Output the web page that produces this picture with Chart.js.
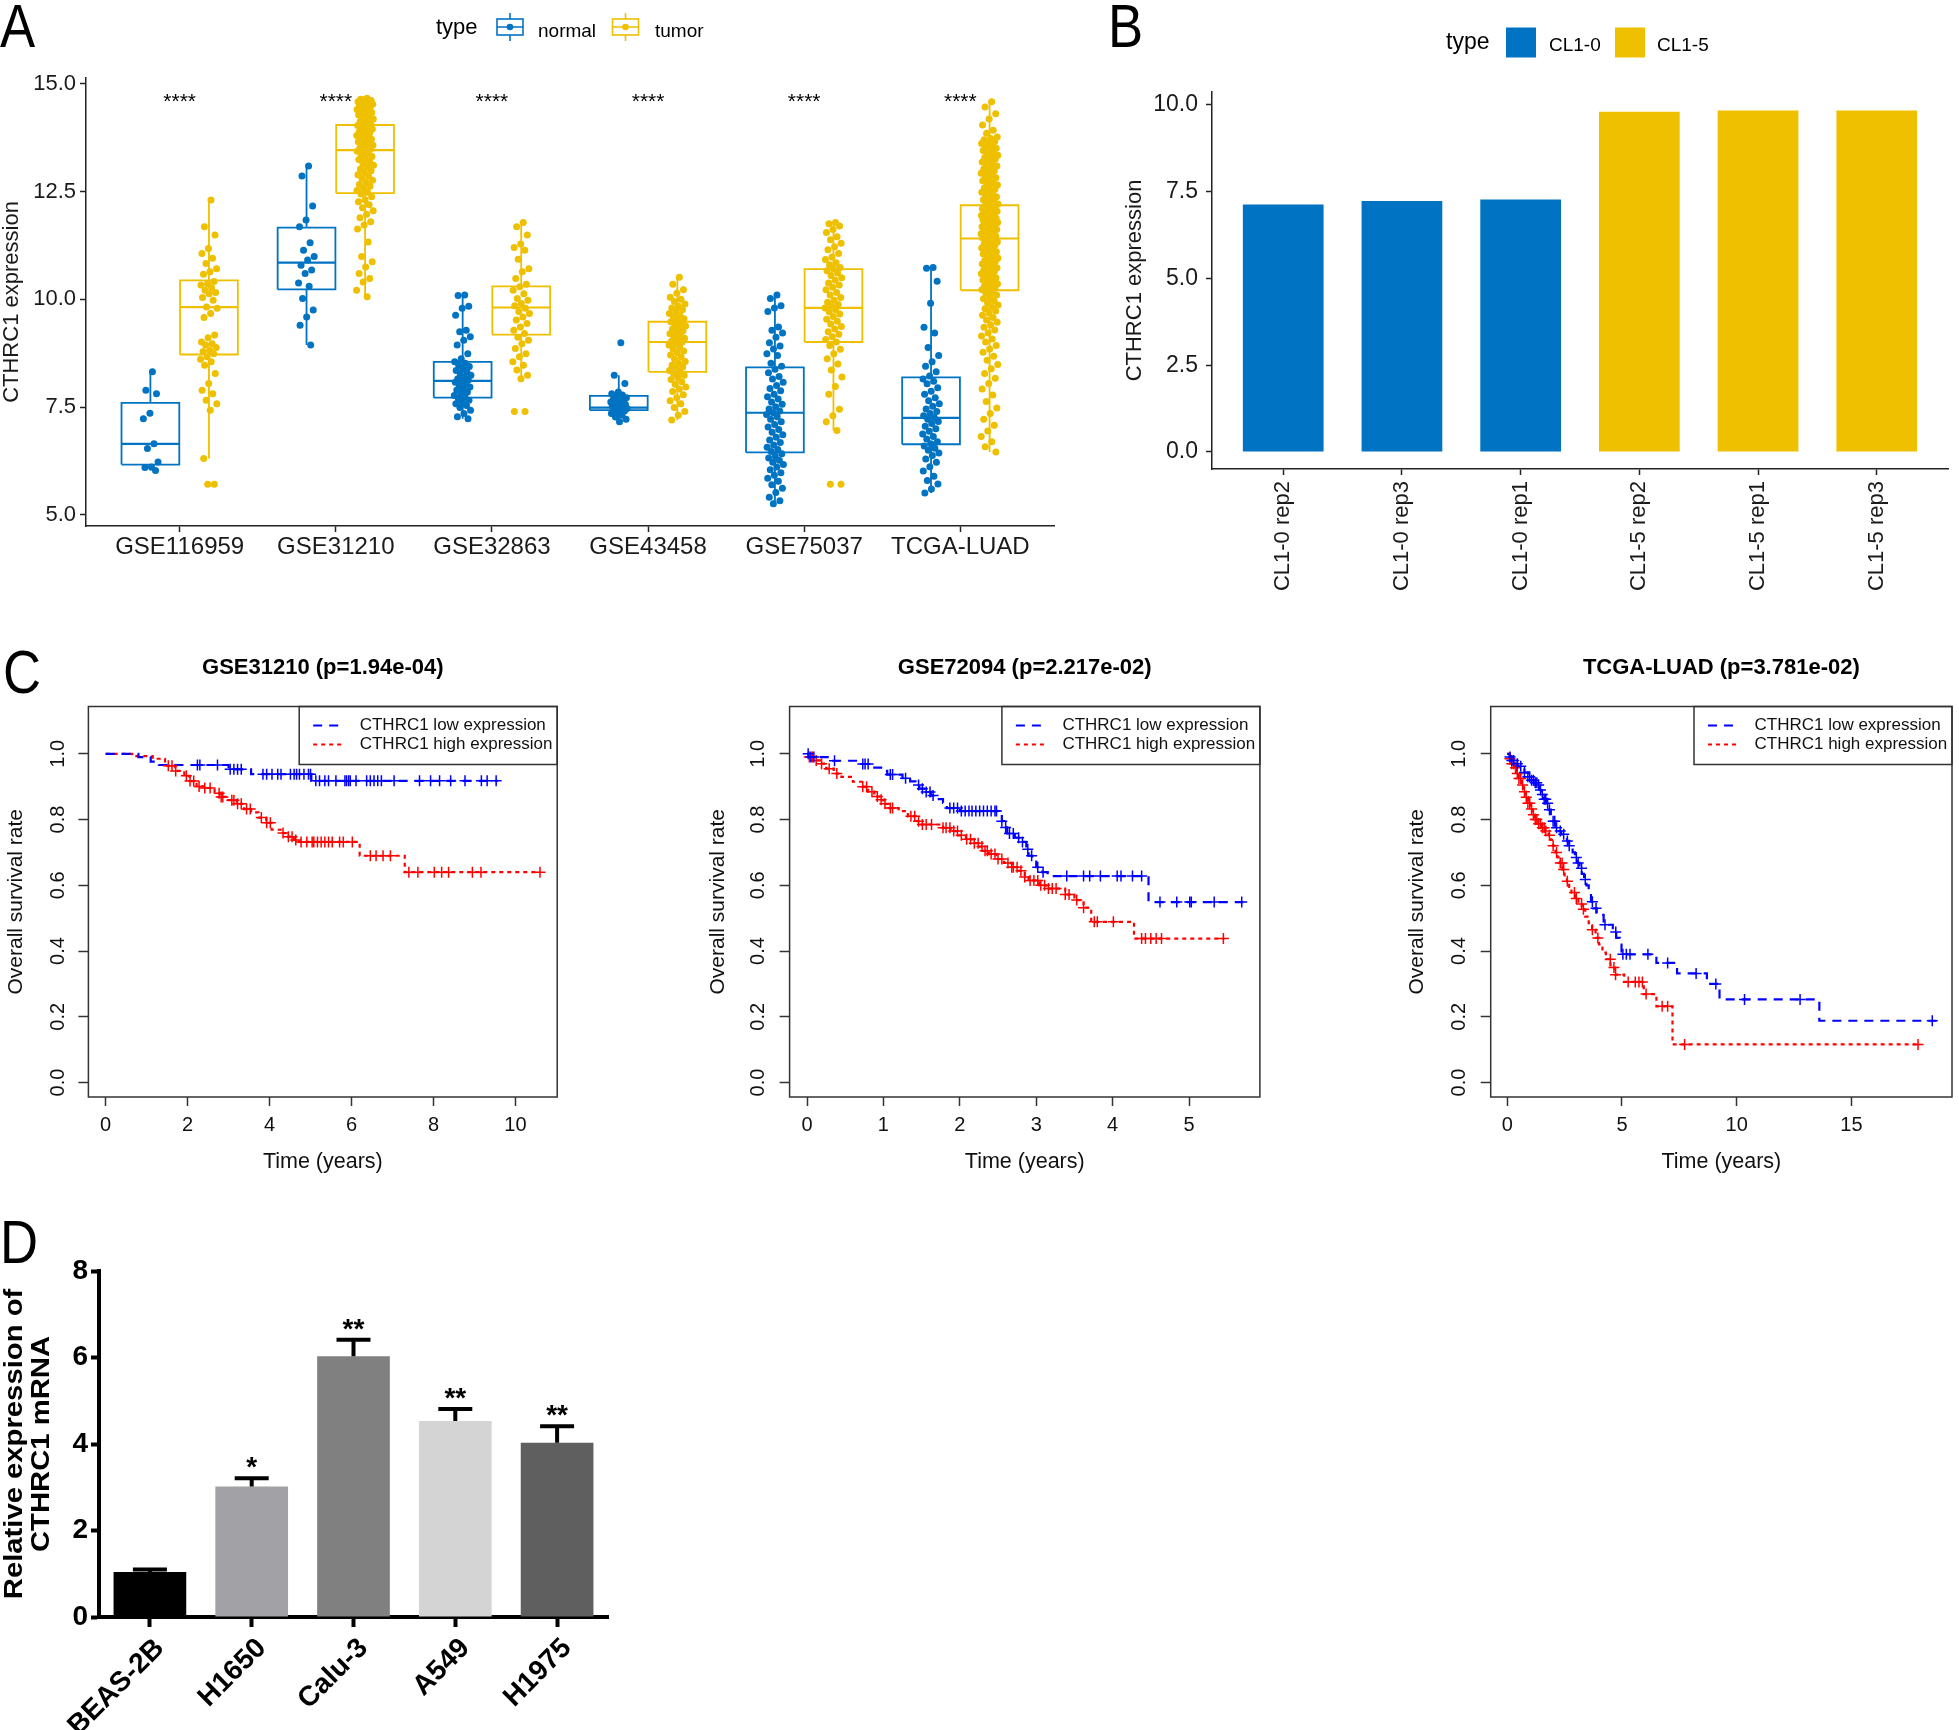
<!DOCTYPE html>
<html>
<head>
<meta charset="utf-8">
<title>CTHRC1 expression figure</title>
<script src="https://cdn.jsdelivr.net/npm/chart.js@4.4.1/dist/chart.umd.min.js"></script>
<style>
  html, body { margin: 0; padding: 0; background: #fff; }
  body { position: relative; width: 1959px; height: 1730px; overflow: hidden; font-family: 'Liberation Sans', Arial, sans-serif; }
  canvas { position: absolute; }
  .tag { position: absolute; font-size: 62px; line-height: 62px; color: #000; transform: scaleX(0.85); transform-origin: left top; z-index: 2; }
</style>
</head>
<body>
<div class="tag" style="left:0px;top:-5px">A</div>
<div class="tag" style="left:1108px;top:-5px">B</div>
<div class="tag" style="left:3px;top:641px">C</div>
<div class="tag" style="left:0px;top:1211px">D</div>

<canvas id="chartA" width="1070" height="580" style="left:0;top:0"></canvas>
<canvas id="chartB" width="859" height="610" style="left:1100px;top:0"></canvas>
<canvas id="chartC1" width="600" height="545" style="left:0;top:640px"></canvas>
<canvas id="chartC2" width="600" height="545" style="left:700px;top:640px"></canvas>
<canvas id="chartC3" width="569" height="545" style="left:1390px;top:640px"></canvas>
<canvas id="chartD" width="640" height="515" style="left:0;top:1215px"></canvas>

<script>
// ---------- Panel A: expression by dataset ----------
const groups = ['GSE116959', 'GSE31210', 'GSE32863', 'GSE43458', 'GSE75037', 'TCGA-LUAD'];
const aTicks = [5, 7.5, 10, 12.5, 15];
const sigLabels = ['****', '****', '****', '****', '****', '****'];
const sigLevel = 14.58;
// [lower whisker, Q1, median, Q3, upper whisker]
const normalBox = [
  [6.03, 6.17, 6.65, 7.60, 8.32],
  [8.94, 10.23, 10.85, 11.66, 13.09],
  [7.23, 7.72, 8.11, 8.55, 10.10],
  [7.16, 7.43, 7.49, 7.76, 8.24],
  [5.26, 6.45, 7.37, 8.42, 10.10],
  [5.51, 6.64, 7.25, 8.19, 10.74]
];
const tumorBox = [
  [6.31, 8.72, 9.82, 10.44, 12.30],
  [10.06, 12.46, 13.46, 14.04, 14.66],
  [8.16, 9.18, 9.81, 10.30, 11.78],
  [7.20, 8.32, 9.01, 9.48, 10.51],
  [6.96, 9.01, 9.80, 10.70, 11.78],
  [6.46, 10.21, 11.41, 12.18, 14.58]
];
const normalVals = [
  [8.32, 7.89, 7.81, 7.36, 7.23, 6.65, 6.54, 6.23, 6.11, 6.10, 6.03],
  [13.09, 12.86, 12.16, 11.84, 11.68, 11.31, 11.14, 10.99, 10.91, 10.79, 10.68, 10.60, 10.38, 10.30, 10.02, 9.75, 9.59, 9.40, 8.94],
  [10.10, 10.09, 9.84, 9.79, 9.63, 9.28, 9.25, 9.13, 9.05, 8.94, 8.74, 8.62, 8.55, 8.52, 8.47, 8.44, 8.39, 8.35, 8.32, 8.28, 8.24, 8.20, 8.16, 8.13, 8.11,
   8.08, 8.05, 8.01, 7.97, 7.93, 7.90, 7.85, 7.82, 7.77, 7.74, 7.70, 7.66, 7.62, 7.58, 7.54, 7.49, 7.43, 7.35, 7.28, 7.23],
  [8.99, 8.24, 8.05, 7.85, 7.81, 7.78, 7.75, 7.72, 7.70, 7.68, 7.66, 7.64, 7.62, 7.60, 7.58, 7.56, 7.54, 7.52, 7.50, 7.49, 7.47, 7.45, 7.43, 7.41,
   7.39, 7.35, 7.31, 7.27, 7.22, 7.16],
  [10.10, 10.02, 9.85, 9.80, 9.72, 9.36, 9.28, 9.22, 9.12, 8.99, 8.92, 8.85, 8.74, 8.70, 8.52, 8.45, 8.38, 8.30, 8.21, 8.15, 8.08, 8.00, 7.93, 7.88,
   7.80, 7.74, 7.69, 7.62, 7.57, 7.51, 7.46, 7.41, 7.37, 7.33, 7.28, 7.22, 7.16, 7.10, 7.04, 6.98, 6.92, 6.86, 6.80, 6.74, 6.68, 6.62, 6.57, 6.52,
   6.47, 6.42, 6.37, 6.32, 6.27, 6.22, 6.17, 6.11, 6.05, 5.98, 5.92, 5.85, 5.78, 5.70, 5.62, 5.52, 5.41, 5.33, 5.26],
  [10.74, 10.72, 10.42, 9.91, 9.35, 9.22, 8.88, 8.70, 8.55, 8.45, 8.32, 8.22, 8.15, 8.10, 8.04, 7.95, 7.87, 7.80, 7.72, 7.65, 7.58, 7.52, 7.46,
   7.40, 7.35, 7.30, 7.26, 7.22, 7.17, 7.12, 7.06, 7.00, 6.94, 6.88, 6.82, 6.76, 6.70, 6.65, 6.60, 6.55, 6.50, 6.44, 6.38, 6.30, 6.22, 6.12, 6.02,
   5.90, 5.80, 5.72, 5.60, 5.51]
];
const tumorVals = [
  [12.30, 11.68, 11.49, 11.18, 11.06, 10.95, 10.83, 10.71, 10.64, 10.58, 10.41, 10.36, 10.33, 10.27, 10.21, 10.16, 10.13, 10.04, 9.98, 9.82, 9.79,
   9.67, 9.58, 9.17, 9.11, 9.01, 8.97, 8.94, 8.88, 8.82, 8.79, 8.74, 8.67, 8.61, 8.55, 8.47, 8.28, 8.05, 7.89, 7.81, 7.66, 7.58, 7.43, 6.31, 5.71, 5.71],
  [14.66, 14.64, 14.61, 14.63, 14.58, 14.55, 14.57, 14.52, 14.49, 14.50, 14.46, 14.43, 14.40, 14.41, 14.36, 14.33, 14.30, 14.27, 14.25, 14.21,
   14.18, 14.16, 14.12, 14.09, 14.06, 14.03, 14.01, 13.97, 13.95, 13.92, 13.88, 13.86, 13.83, 13.80, 13.78, 13.74, 13.71, 13.69, 13.65, 13.62,
   13.60, 13.57, 13.54, 13.51, 13.48, 13.46, 13.43, 13.40, 13.36, 13.31, 13.27, 13.24, 13.20, 13.15, 13.11, 13.07, 13.02, 12.98, 12.94, 12.89,
   12.85, 12.80, 12.76, 12.71, 12.66, 12.62, 12.57, 12.52, 12.48, 12.44, 12.38, 12.31, 12.26, 12.19, 12.12, 12.05, 11.97, 11.89, 11.80, 11.72,
   11.63, 11.33, 10.99, 10.87, 10.75, 10.60, 10.48, 10.40, 10.21, 10.06],
  [11.78, 11.68, 11.49, 11.28, 11.20, 11.14, 10.93, 10.71, 10.64, 10.48, 10.35, 10.29, 10.21, 10.13, 10.02, 9.98, 9.90, 9.85, 9.79, 9.72, 9.67,
   9.59, 9.52, 9.44, 9.36, 9.28, 9.21, 9.12, 9.05, 8.97, 8.86, 8.74, 8.67, 8.55, 8.47, 8.36, 8.24, 8.16, 7.40, 7.40],
  [10.51, 10.35, 10.22, 10.14, 10.05, 10.00, 9.95, 9.89, 9.84, 9.80, 9.76, 9.71, 9.67, 9.62, 9.58, 9.55, 9.51, 9.48, 9.45, 9.41, 9.38, 9.34, 9.31,
   9.27, 9.24, 9.20, 9.16, 9.13, 9.10, 9.06, 9.03, 9.01, 8.98, 8.94, 8.90, 8.85, 8.80, 8.76, 8.71, 8.66, 8.61, 8.56, 8.52, 8.47, 8.43, 8.39, 8.35,
   8.32, 8.28, 8.24, 8.19, 8.14, 8.09, 8.03, 7.97, 7.92, 7.86, 7.79, 7.72, 7.65, 7.58, 7.49, 7.40, 7.31, 7.20],
  [11.78, 11.75, 11.70, 11.62, 11.55, 11.45, 11.38, 11.30, 11.22, 11.15, 11.06, 10.98, 10.92, 10.85, 10.80, 10.74, 10.70, 10.66, 10.61, 10.55,
   10.50, 10.44, 10.38, 10.33, 10.28, 10.22, 10.16, 10.10, 10.04, 9.98, 9.93, 9.88, 9.84, 9.80, 9.76, 9.71, 9.66, 9.60, 9.54, 9.49, 9.43, 9.37,
   9.31, 9.25, 9.19, 9.13, 9.07, 9.01, 8.93, 8.84, 8.74, 8.62, 8.50, 8.36, 8.20, 7.98, 7.80, 7.45, 7.30, 7.16, 6.96, 5.71, 5.71],
  [14.58, 14.46, 14.30, 14.18, 14.04, 13.92, 13.85,
   13.76, 13.73, 13.70, 13.66, 13.63, 13.61, 13.57, 13.54, 13.50, 13.47, 13.45, 13.41, 13.38, 13.34, 13.31, 13.29, 13.25, 13.22, 13.18, 13.15,
   13.12, 13.09, 13.05, 13.02, 12.98, 12.95, 12.92, 12.88, 12.85, 12.82, 12.78, 12.75, 12.71, 12.68, 12.65, 12.61, 12.58, 12.55, 12.51, 12.48,
   12.45, 12.41, 12.38, 12.35, 12.31, 12.28, 12.25, 12.21, 12.18,
   12.16, 12.14, 12.12, 12.10, 12.08, 12.06, 12.04, 12.02, 12.00, 11.98, 11.96, 11.94, 11.92, 11.90, 11.88, 11.86, 11.84, 11.82, 11.80, 11.78,
   11.76, 11.74, 11.72, 11.70, 11.68, 11.66, 11.64, 11.62, 11.60, 11.58, 11.56, 11.54, 11.52, 11.50, 11.48, 11.46, 11.44, 11.42,
   11.39, 11.36, 11.33, 11.30, 11.28, 11.25, 11.22, 11.19, 11.16, 11.13, 11.10, 11.08, 11.05, 11.02, 10.99, 10.96, 10.93, 10.90, 10.88, 10.85,
   10.82, 10.79, 10.76, 10.73, 10.70, 10.68, 10.65, 10.62, 10.59, 10.56, 10.53, 10.50, 10.48, 10.45, 10.42, 10.39, 10.36, 10.33, 10.30, 10.28,
   10.25, 10.22,
   10.18, 10.14, 10.10, 10.05, 10.01, 9.96, 9.92, 9.87, 9.82, 9.78, 9.73, 9.68, 9.63, 9.58, 9.52, 9.47, 9.41, 9.35, 9.29, 9.22, 9.15, 9.08, 9.01,
   8.93, 8.85, 8.77, 8.68, 8.59, 8.49, 8.39, 8.28, 8.17, 8.05, 7.92, 7.78, 7.63, 7.48, 7.35, 7.22, 7.08, 6.95, 6.82, 6.70, 6.58, 6.46]
];

// ---------- Panel B: cell lines ----------
const bLabels = ['CL1-0 rep2', 'CL1-0 rep3', 'CL1-0 rep1', 'CL1-5 rep2', 'CL1-5 rep1', 'CL1-5 rep3'];
const bValues = [7.13, 7.23, 7.27, 9.80, 9.84, 9.84];
const bTypes = ['CL1-0', 'CL1-0', 'CL1-0', 'CL1-5', 'CL1-5', 'CL1-5'];
const bTicks = [0, 2.5, 5, 7.5, 10];

// ---------- Panel C: survival curves (event times in years, survival after each step) ----------
const survTicks = [0, 0.2, 0.4, 0.6, 0.8, 1.0];
const c1LowT = [0, 0.8, 1.1, 1.3, 3.0, 3.55, 5.02, 9.57];
const c1LowS = [1, 0.99, 0.976, 0.966, 0.953, 0.938, 0.918, 0.918];
const c1LowCens = [2.24, 2.30, 2.73, 3.04, 3.13, 3.22, 3.31, 3.84, 3.93, 4.06, 4.20, 4.28, 4.51, 4.60, 4.66, 4.73, 4.84, 4.95, 5.0, 5.13, 5.22,
  5.35, 5.44, 5.62, 5.84, 5.88, 5.93, 5.97, 6.11, 6.37, 6.46, 6.55, 6.64, 6.73, 7.04, 7.66, 7.93, 8.15, 8.42, 8.77, 9.17, 9.31, 9.53];
const c1HighT = [0, 0.65, 1.15, 1.45, 1.7, 1.92, 2.05, 2.22, 2.4, 2.66, 2.8, 3.0, 3.2, 3.38, 3.55, 3.73, 3.92, 4.05, 4.27, 4.45, 4.6, 4.72, 6.2, 7.3, 10.6];
const c1HighS = [1, 0.993, 0.985, 0.964, 0.948, 0.933, 0.917, 0.901, 0.896, 0.880, 0.869, 0.859, 0.848, 0.832, 0.822, 0.806, 0.790, 0.769,
  0.759, 0.748, 0.738, 0.732, 0.690, 0.640, 0.640];
const c1HighCens = [1.53, 1.62, 1.71, 1.97, 2.06, 2.15, 2.28, 2.42, 2.55, 2.77, 2.82, 2.86, 3.08, 3.13, 3.22, 3.31, 3.44, 3.53, 3.80, 3.93, 4.02,
  4.33, 4.46, 4.55, 4.64, 4.77, 4.91, 5.04, 5.08, 5.17, 5.26, 5.35, 5.44, 5.53, 5.71, 5.80, 6.02, 6.46, 6.60, 6.77, 6.95, 7.40, 7.62, 8.02, 8.20,
  8.37, 8.95, 9.16, 10.6];

const c2LowT = [0, 0.03, 0.3, 0.7, 0.85, 1.0, 1.05, 1.25, 1.35, 1.42, 1.47, 1.55, 1.62, 1.7, 1.78, 1.83, 2.0, 2.5, 2.55, 2.58, 2.62, 2.72, 2.8,
  2.87, 2.9, 2.95, 3.0, 3.08, 3.15, 4.47, 5.71];
const c2LowS = [1, 0.99, 0.979, 0.969, 0.958, 0.948, 0.937, 0.926, 0.916, 0.905, 0.894, 0.884, 0.873, 0.862, 0.851, 0.835, 0.826, 0.815, 0.795,
  0.776, 0.758, 0.745, 0.732, 0.71, 0.69, 0.672, 0.655, 0.64, 0.628, 0.549, 0.549];
const c2LowCens = [0.015, 0.05, 0.09, 0.36, 0.73, 0.76, 0.80, 1.09, 1.12, 1.29, 1.46, 1.51, 1.56, 1.61, 1.65, 1.87, 1.92, 1.97, 2.02, 2.07, 2.12,
  2.16, 2.21, 2.26, 2.31, 2.36, 2.41, 2.46, 2.48, 2.55, 2.60, 2.65, 2.70, 2.77, 2.82, 2.89, 2.94, 3.02, 3.09, 3.40, 3.62, 3.70, 3.84, 4.06, 4.11,
  4.26, 4.38, 4.62, 4.84, 5.01, 5.03, 5.33, 5.69];
const c2HighT = [0, 0.02, 0.1, 0.18, 0.25, 0.35, 0.45, 0.6, 0.72, 0.8, 0.88, 0.95, 1.0, 1.08, 1.2, 1.32, 1.42, 1.48, 1.78, 1.88, 1.98, 2.08,
  2.18, 2.25, 2.3, 2.38, 2.48, 2.58, 2.68, 2.78, 2.85, 2.9, 3.04, 3.13, 3.38, 3.5, 3.62, 3.72, 4.28, 5.45];
const c2HighS = [1, 0.99, 0.98, 0.97, 0.955, 0.94, 0.93, 0.915, 0.9, 0.885, 0.87, 0.86, 0.848, 0.835, 0.826, 0.81, 0.795, 0.785, 0.775, 0.765,
  0.752, 0.74, 0.728, 0.718, 0.705, 0.695, 0.68, 0.668, 0.655, 0.644, 0.625, 0.615, 0.6, 0.59, 0.572, 0.555, 0.532, 0.489, 0.438, 0.438];
const c2HighCens = [0.03, 0.07, 0.12, 0.19, 0.29, 0.39, 0.73, 0.78, 0.85, 0.92, 0.97, 1.02, 1.09, 1.12, 1.36, 1.41, 1.46, 1.51, 1.56, 1.63, 1.78,
  1.82, 1.87, 1.92, 1.97, 2.02, 2.09, 2.14, 2.19, 2.24, 2.29, 2.33, 2.36, 2.41, 2.46, 2.50, 2.55, 2.63, 2.68, 2.70, 2.75, 2.80, 2.85, 2.92, 2.97,
  3.02, 3.06, 3.11, 3.16, 3.21, 3.26, 3.38, 3.43, 3.53, 3.62, 3.76, 3.80, 4.01, 4.38, 4.43, 4.50, 4.57, 4.64, 5.45];

const c3LowT = [0, 0.1, 0.2, 0.3, 0.45, 0.6, 0.75, 0.9, 1.0, 1.15, 1.3, 1.4, 1.5, 1.6, 1.7, 1.8, 1.9, 2.0, 2.1, 2.2, 2.35, 2.5, 2.6, 2.7, 2.85,
  2.95, 3.05, 3.15, 3.25, 3.35, 3.45, 3.55, 3.65, 3.75, 3.9, 4.2, 4.6, 4.75, 4.9, 4.98, 6.5, 7.4, 8.7, 9.25, 13.6, 18.7];
const c3LowS = [1, 0.99, 0.98, 0.97, 0.962, 0.952, 0.943, 0.93, 0.92, 0.912, 0.905, 0.89, 0.876, 0.862, 0.85, 0.83, 0.812, 0.795, 0.775, 0.765,
  0.755, 0.745, 0.735, 0.72, 0.70, 0.685, 0.668, 0.652, 0.635, 0.618, 0.60, 0.575, 0.55, 0.53, 0.51, 0.48, 0.458, 0.44, 0.42, 0.39, 0.364,
  0.332, 0.30, 0.253, 0.188, 0.188];
const c3LowCens = [0.12, 0.2, 0.28, 0.44, 0.59, 0.75, 0.9, 0.98, 1.06, 1.14, 1.22, 1.29, 1.37, 1.45, 1.53, 1.61, 1.68, 1.76, 1.84, 2.0, 2.07,
  2.15, 2.31, 2.46, 2.62, 2.70, 3.01, 3.09, 3.24, 3.4, 3.71, 3.87, 4.26, 4.73, 5.04, 5.19, 5.35, 6.13, 6.99, 8.23, 9.09, 10.34, 12.76, 18.52];
const c3HighT = [0, 0.1, 0.2, 0.3, 0.4, 0.5, 0.6, 0.7, 0.8, 0.9, 1.0, 1.1, 1.2, 1.35, 1.5, 1.65, 1.8, 1.9, 2.0, 2.1, 2.2, 2.3, 2.4, 2.5, 2.6,
  2.7, 2.8, 2.95, 3.1, 3.25, 3.4, 3.55, 3.7, 3.85, 4.0, 4.15, 4.3, 4.5, 4.7, 5.1, 5.95, 6.5, 7.2, 17.9];
const c3HighS = [1, 0.985, 0.97, 0.958, 0.94, 0.925, 0.905, 0.885, 0.868, 0.85, 0.832, 0.815, 0.80, 0.787, 0.775, 0.765, 0.752, 0.738, 0.72,
  0.70, 0.685, 0.668, 0.648, 0.63, 0.612, 0.595, 0.578, 0.56, 0.543, 0.527, 0.505, 0.485, 0.465, 0.44, 0.42, 0.395, 0.375, 0.35, 0.328, 0.306,
  0.269, 0.232, 0.116, 0.116];
const c3HighCens = [0.12, 0.2, 0.28, 0.36, 0.44, 0.51, 0.59, 0.67, 0.75, 0.83, 0.9, 0.98, 1.06, 1.14, 1.22, 1.29, 1.37, 1.45, 1.53, 1.61, 1.68,
  1.84, 2.0, 2.15, 2.31, 2.39, 2.46, 2.62, 2.93, 3.01, 3.24, 3.32, 3.71, 3.95, 4.49, 4.65, 4.72, 5.27, 5.58, 5.74, 5.89, 6.05, 6.75, 6.99, 7.73, 17.9];

// ---------- Panel D: qPCR ----------
const dLabels = ['BEAS-2B', 'H1650', 'Calu-3', 'A549', 'H1975'];
const dMeans = [1.04, 3.02, 6.03, 4.53, 4.03];
const dErr = [0.06, 0.19, 0.38, 0.28, 0.38];
const dStars = ['', '*', '**', '**', '**'];
const dTicks = [0, 2, 4, 6, 8];
const dTitle = ['Relative expression of', 'CTHRC1 mRNA'];

// ---------- shared setup ----------
const FONT = "'Liberation Sans', Arial, Helvetica, sans-serif";
const BLUE = '#0073C2', GOLD = '#EFC000';
const dColors = ['#000000', '#a1a1a6', '#808080', '#d4d4d4', '#5f5f5f'];
Chart.defaults.font.family = FONT;
Chart.defaults.color = '#000';
Chart.defaults.animation = false;
Chart.defaults.events = [];
Chart.defaults.plugins.legend.display = false;
Chart.defaults.plugins.tooltip.enabled = false;

const fixedTicks = vals => s => { s.ticks = vals.map(v => ({ value: v })); };
const fixWidth = w => s => { s.width = w; };
const fixHeight = h => s => { s.height = h; };
const tickGrid = (len, w, color) => ({ display: true, drawOnChartArea: false, drawTicks: true, tickLength: len, tickWidth: w, tickColor: color, offset: false });

// ---------- Panel A ----------
const boxHalf = 0.185, dodge = 0.1875, jitterHalf = 0.055;

function boxOutline(stats, shift) {
  const pts = [];
  stats.forEach((b, i) => {
    const c = i + shift;
    const [lo, q1, , q3, hi] = b;
    pts.push({ x: c - boxHalf, y: q1 }, { x: c + boxHalf, y: q1 }, { x: c + boxHalf, y: q3 },
             { x: c - boxHalf, y: q3 }, { x: c - boxHalf, y: q1 }, { x: c, y: null });
    pts.push({ x: c, y: q3 }, { x: c, y: hi }, { x: c, y: null });
    pts.push({ x: c, y: q1 }, { x: c, y: lo }, { x: c, y: null });
  });
  return pts;
}
function medianLines(stats, shift) {
  const pts = [];
  stats.forEach((b, i) => {
    pts.push({ x: i + shift - boxHalf, y: b[2] }, { x: i + shift + boxHalf, y: b[2] }, { x: i + shift, y: null });
  });
  return pts;
}
function jittered(vals, shift) {
  const pts = [];
  vals.forEach((arr, i) => arr.forEach((v, k) => {
    const j = (((k + 1) * 0.6180339887) % 1 - 0.5) * 2 * jitterHalf;
    pts.push({ x: i + shift + j, y: v });
  }));
  return pts;
}
function boxKey(ctx, x0, color) {
  ctx.strokeStyle = color; ctx.lineWidth = 1.6;
  ctx.beginPath();
  ctx.moveTo(x0 + 13, 13); ctx.lineTo(x0 + 13, 19);
  ctx.moveTo(x0 + 13, 35); ctx.lineTo(x0 + 13, 41);
  ctx.moveTo(x0, 27); ctx.lineTo(x0 + 26, 27);
  ctx.stroke();
  ctx.strokeRect(x0, 19, 26, 16);
  ctx.fillStyle = color;
  ctx.beginPath(); ctx.arc(x0 + 13, 27, 3.3, 0, Math.PI * 2); ctx.fill();
}

new Chart(document.getElementById('chartA'), {
  type: 'scatter',
  data: {
    datasets: [
      { data: jittered(normalVals, -dodge), backgroundColor: BLUE, borderWidth: 0, pointRadius: 3.5, order: 0 },
      { data: jittered(tumorVals, dodge), backgroundColor: GOLD, borderWidth: 0, pointRadius: 3.5, order: 0 },
      { data: medianLines(normalBox, -dodge), showLine: true, borderColor: BLUE, borderWidth: 2.2, pointRadius: 0, spanGaps: false, order: 1 },
      { data: medianLines(tumorBox, dodge), showLine: true, borderColor: GOLD, borderWidth: 2.2, pointRadius: 0, spanGaps: false, order: 1 },
      { data: boxOutline(normalBox, -dodge), showLine: true, borderColor: BLUE, borderWidth: 1.8, pointRadius: 0, spanGaps: false,
        borderJoinStyle: 'miter', order: 2 },
      { data: boxOutline(tumorBox, dodge), showLine: true, borderColor: GOLD, borderWidth: 1.8, pointRadius: 0, spanGaps: false,
        borderJoinStyle: 'miter', order: 2 }
    ]
  },
  options: {
    responsive: false,
    layout: { padding: { left: 0, top: 78, right: 16, bottom: 0 } },
    scales: {
      x: {
        type: 'linear', min: -0.6, max: 5.6, offset: false,
        afterBuildTicks: fixedTicks(groups.map((g, i) => i)),
        afterFit: fixHeight(54),
        ticks: { callback: v => groups[v], font: { size: 24 }, padding: 1, maxRotation: 0, autoSkip: false, color: '#1a1a1a' },
        grid: tickGrid(6, 1.5, '#222'),
        border: { display: true, color: '#222', width: 1.5 }
      },
      y: {
        min: 4.745, max: 15.13,
        afterBuildTicks: fixedTicks(aTicks),
        afterFit: fixWidth(86),
        ticks: { callback: v => v.toFixed(1), font: { size: 22 }, padding: 4, color: '#1a1a1a' },
        grid: tickGrid(6, 1.5, '#222'),
        border: { display: true, color: '#222', width: 1.5 },
        title: { display: true, text: 'CTHRC1 expression', font: { size: 22, lineHeight: 1.05 }, color: '#1a1a1a', padding: { top: 0, bottom: 0 } }
      }
    }
  },
  plugins: [{
    id: 'panelAExtras',
    afterDatasetsDraw(chart) {
      const { ctx, scales: { x, y } } = chart;
      ctx.save();
      ctx.fillStyle = '#000';
      ctx.font = '21px ' + FONT;
      ctx.textAlign = 'center';
      ctx.textBaseline = 'middle';
      sigLabels.forEach((s, i) => ctx.fillText(s, x.getPixelForValue(i), y.getPixelForValue(sigLevel)));
      // legend
      ctx.textAlign = 'left';
      ctx.textBaseline = 'alphabetic';
      ctx.font = '22px ' + FONT;
      ctx.fillText('type', 436, 34);
      boxKey(ctx, 497, BLUE);
      boxKey(ctx, 612.5, GOLD);
      ctx.fillStyle = '#000';
      ctx.font = '19px ' + FONT;
      ctx.fillText('normal', 538, 36.5);
      ctx.fillText('tumor', 655, 36.5);
      ctx.restore();
    }
  }]
});

// ---------- Panel B ----------
new Chart(document.getElementById('chartB'), {
  type: 'bar',
  data: {
    datasets: [{
      data: bValues.map((v, i) => ({ x: i, y: v })),
      backgroundColor: bTypes.map(t => t === 'CL1-0' ? BLUE : GOLD),
      borderWidth: 0,
      barPercentage: 0.68,
      categoryPercentage: 1
    }]
  },
  options: {
    responsive: false,
    layout: { padding: { left: 22, top: 92, right: 11, bottom: 0 } },
    scales: {
      x: {
        type: 'linear', min: -0.6, max: 5.6, offset: false,
        afterBuildTicks: fixedTicks(bLabels.map((l, i) => i)),
        afterFit: fixHeight(141),
        ticks: { callback: v => bLabels[v], font: { size: 22 }, padding: 6, minRotation: 90, maxRotation: 90, autoSkip: false, color: '#1a1a1a' },
        grid: tickGrid(6, 1.5, '#222'),
        border: { display: true, color: '#222', width: 1.5 }
      },
      y: {
        min: -0.49, max: 10.37,
        afterBuildTicks: fixedTicks(bTicks),
        afterFit: fixWidth(90),
        ticks: { callback: v => v.toFixed(1), font: { size: 23 }, padding: 8, color: '#1a1a1a' },
        grid: tickGrid(6, 1.5, '#222'),
        border: { display: true, color: '#222', width: 1.5 },
        title: { display: true, text: 'CTHRC1 expression', font: { size: 22 }, color: '#1a1a1a', padding: { top: 0, bottom: 0 } }
      }
    }
  },
  plugins: [{
    id: 'panelBLegend',
    afterDraw(chart) {
      const ctx = chart.ctx;
      ctx.save();
      ctx.fillStyle = '#000';
      ctx.font = '23px ' + FONT;
      ctx.textBaseline = 'alphabetic';
      ctx.fillText('type', 346, 48.5);
      ctx.fillStyle = BLUE; ctx.fillRect(406, 27.5, 30, 30);
      ctx.fillStyle = GOLD; ctx.fillRect(515, 27.5, 30, 30);
      ctx.fillStyle = '#000';
      ctx.font = '19px ' + FONT;
      ctx.fillText('CL1-0', 449, 51);
      ctx.fillText('CL1-5', 557, 51);
      ctx.restore();
    }
  }]
});

// ---------- Panel C ----------
function survAt(times, surv, t) {
  let s = 1;
  times.forEach((tt, i) => { if (tt <= t) s = surv[i]; });
  return s;
}
function kmChart(id, cfg) {
  const lowColor = '#0000FF', highColor = '#FF0000';
  const curve = (t, s, color, dash) => ({
    data: t.map((v, i) => ({ x: v, y: s[i] })), showLine: true, stepped: 'before', borderColor: color,
    borderWidth: 2.2, borderDash: dash, pointRadius: 0, fill: false, order: 1
  });
  const censor = (cens, t, s, color) => ({
    data: cens.map(c => ({ x: c, y: survAt(t, s, c) })), pointStyle: 'cross', pointRadius: 5.5,
    borderColor: color, borderWidth: 1.5, backgroundColor: color, order: 0
  });
  new Chart(document.getElementById(id), {
    type: 'scatter',
    data: {
      datasets: [
        curve(cfg.lowT, cfg.lowS, lowColor, [9, 7]),
        curve(cfg.highT, cfg.highS, highColor, [4, 4]),
        censor(cfg.lowC, cfg.lowT, cfg.lowS, lowColor),
        censor(cfg.highC, cfg.highT, cfg.highS, highColor)
      ]
    },
    options: {
      responsive: false,
      layout: { padding: { left: 0, top: 0, right: cfg.rightPad, bottom: 0 } },
      plugins: {
        title: { display: true, text: cfg.title, fullSize: false, color: '#000', font: { size: 22, weight: 'bold' },
                 padding: { top: 14.5, bottom: 25.6 } }
      },
      scales: {
        x: {
          type: 'linear', min: cfg.xMin, max: cfg.xMax,
          afterBuildTicks: fixedTicks(cfg.xTicks),
          afterFit: fixHeight(88),
          ticks: { font: { size: 20 }, padding: 7.5, maxRotation: 0, autoSkip: false, color: '#111' },
          grid: tickGrid(9, 1.5, '#333'),
          border: { display: false },
          title: { display: true, text: 'Time (years)', font: { size: 21.5 }, color: '#111', padding: { top: 0, bottom: 10 } }
        },
        y: {
          min: -0.044, max: 1.144,
          afterBuildTicks: fixedTicks(survTicks),
          afterFit: fixWidth(cfg.yWidth),
          ticks: { callback: v => v.toFixed(1), font: { size: 20 }, padding: cfg.tickPad, minRotation: 90, maxRotation: 90,
                   crossAlign: 'center', autoSkip: false, color: '#111' },
          grid: tickGrid(10, 1.5, '#333'),
          border: { display: false },
          title: { display: true, text: 'Overall survival rate', font: { size: 21 }, color: '#111', padding: { top: cfg.titlePad, bottom: 0 } }
        }
      }
    },
    plugins: [{
      id: 'kmFrame',
      beforeDatasetsDraw(chart) {
        const { ctx, chartArea: a } = chart;
        ctx.save();
        ctx.strokeStyle = '#333'; ctx.lineWidth = 1.5;
        ctx.strokeRect(a.left, a.top, a.right - a.left, a.bottom - a.top);
        ctx.restore();
      },
      afterDatasetsDraw(chart) {
        const { ctx, chartArea: a } = chart;
        const w = 258, h = 58, x0 = a.right - w, y0 = a.top;
        ctx.save();
        ctx.strokeStyle = '#333'; ctx.lineWidth = 1.5;
        ctx.strokeRect(x0, y0, w, h);
        const rows = [
          { text: 'CTHRC1 low expression', color: lowColor, dash: [9, 7], y: y0 + 19 },
          { text: 'CTHRC1 high expression', color: highColor, dash: [4, 4], y: y0 + 38 }
        ];
        rows.forEach(r => {
          ctx.setLineDash(r.dash);
          ctx.strokeStyle = r.color; ctx.lineWidth = 2.2;
          ctx.beginPath(); ctx.moveTo(x0 + 14, r.y); ctx.lineTo(x0 + 42, r.y); ctx.stroke();
          ctx.setLineDash([]);
          ctx.fillStyle = '#111';
          ctx.font = '17px ' + FONT;
          ctx.textBaseline = 'middle';
          ctx.fillText(r.text, x0 + 60.5, r.y);
        });
        ctx.restore();
      }
    }]
  });
}

kmChart('chartC1', {
  title: 'GSE31210 (p=1.94e-04)', xMin: -0.42, xMax: 11.02, xTicks: [0, 2, 4, 6, 8, 10],
  yWidth: 88.4, rightPad: 42.8, tickPad: 6, titlePad: 3.8,
  lowT: c1LowT, lowS: c1LowS, lowC: c1LowCens, highT: c1HighT, highS: c1HighS, highC: c1HighCens
});
kmChart('chartC2', {
  title: 'GSE72094 (p=2.217e-02)', xMin: -0.228, xMax: 5.928, xTicks: [0, 1, 2, 3, 4, 5],
  yWidth: 89.6, rightPad: 40.1, tickPad: 6.9, titlePad: 5.3,
  lowT: c2LowT, lowS: c2LowS, lowC: c2LowCens, highT: c2HighT, highS: c2HighS, highC: c2HighCens
});
kmChart('chartC3', {
  title: 'TCGA-LUAD (p=3.781e-02)', xMin: -0.72, xMax: 19.38, xTicks: [0, 5, 10, 15],
  yWidth: 100.7, rightPad: 2, tickPad: 7.5, titlePad: 14.8,
  lowT: c3LowT, lowS: c3LowS, lowC: c3LowCens, highT: c3HighT, highS: c3HighS, highC: c3HighCens
});

// ---------- Panel D ----------
const capHalf = 0.167;
const errorSegments = [];
dMeans.forEach((m, i) => {
  const top = m + dErr[i];
  errorSegments.push({ x: i, y: m }, { x: i, y: top }, { x: i, y: null },
                     { x: i - capHalf, y: top }, { x: i + capHalf, y: top }, { x: i, y: null });
});

new Chart(document.getElementById('chartD'), {
  type: 'bar',
  data: {
    datasets: [
      { type: 'line', data: errorSegments, borderColor: '#000', borderWidth: 4, pointRadius: 0, spanGaps: false,
        borderCapStyle: 'butt', order: 0 },
      { data: dMeans.map((v, i) => ({ x: i, y: v })), backgroundColor: dColors, borderWidth: 0,
        barPercentage: 0.714, categoryPercentage: 1, order: 1 }
    ]
  },
  options: {
    responsive: false,
    layout: { padding: { left: 0, top: 56, right: 32, bottom: 0 } },
    scales: {
      x: {
        type: 'linear', min: -0.5, max: 4.5, offset: false,
        afterBuildTicks: fixedTicks(dLabels.map((l, i) => i)),
        afterFit: fixHeight(113),
        ticks: { callback: v => dLabels[v], font: { size: 28, weight: 'bold' }, minRotation: 45, maxRotation: 45,
                 labelOffset: 10, padding: 5, autoSkip: false },
        grid: tickGrid(10, 4, '#000'),
        border: { display: true, color: '#000', width: 4 }
      },
      y: {
        min: 0, max: 8,
        afterBuildTicks: fixedTicks(dTicks),
        afterFit: fixWidth(99),
        ticks: { font: { size: 28, weight: 'bold' }, padding: 3 },
        grid: tickGrid(8, 4, '#000'),
        border: { display: true, color: '#000', width: 4 }
      }
    }
  },
  plugins: [{
    id: 'panelDExtras',
    afterDatasetsDraw(chart) {
      const { ctx, scales: { x, y }, chartArea: a } = chart;
      ctx.save();
      ctx.fillStyle = '#000';
      ctx.font = 'bold 28px ' + FONT;
      ctx.textAlign = 'center';
      ctx.textBaseline = 'alphabetic';
      dStars.forEach((s, i) => {
        if (s) ctx.fillText(s, x.getPixelForValue(i), y.getPixelForValue(dMeans[i] + dErr[i]) - 2);
      });
      // y-axis title, two lines, slightly widened like the original artwork
      ctx.translate(15.5, (a.top + a.bottom) / 2);
      ctx.rotate(-Math.PI / 2);
      ctx.scale(1.17, 1);
      ctx.font = 'bold 25px ' + FONT;
      ctx.textBaseline = 'middle';
      dTitle.forEach((line, k) => ctx.fillText(line, 0, k * 26.5));
      ctx.restore();
    }
  }]
});
</script>
</body>
</html>
